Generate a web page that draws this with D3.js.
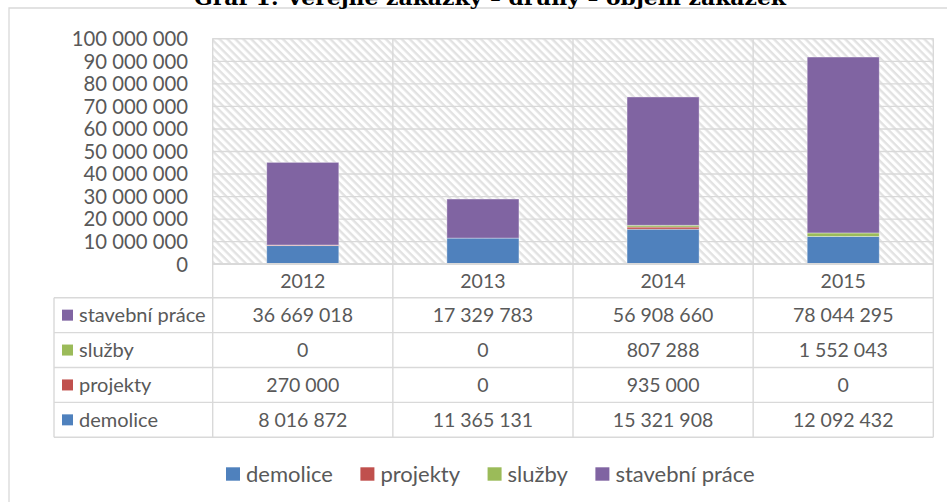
<!DOCTYPE html>
<html><head><meta charset="utf-8">
<script src="https://cdn.jsdelivr.net/npm/d3@7"></script>
<style>
html,body{margin:0;padding:0;background:#fff;}
svg{display:block;}
text{font-family:Lato,"Open Sans",sans-serif;fill:#595959;}
</style></head>
<body>
<svg id="chart" width="947" height="502"></svg>
<script>
const title = "Graf 1: Veřejné zakázky – druhy – objem zakázek";
const categories = ["2012", "2013", "2014", "2015"];
const seriesNames = ["demolice", "projekty", "služby", "stavební práce"];
const demolice = [8016872, 11365131, 15321908, 12092432];
const projekty = [270000, 0, 935000, 0];
const sluzby = [0, 0, 807288, 1552043];
const stavebniPrace = [36669018, 17329783, 56908660, 78044295];
const seriesColors = ["#4f81bd", "#c0504d", "#9bbb59", "#8064a2"];
const yTicks = [0, 10000000, 20000000, 30000000, 40000000, 50000000, 60000000, 70000000, 80000000, 90000000, 100000000];

const seriesValues = [demolice, projekty, sluzby, stavebniPrace];
const rows = categories.map((c, i) => {
  const r = {cat: c};
  seriesNames.forEach((s, j) => r[s] = seriesValues[j][i]);
  return r;
});

const svg = d3.select("#chart");
const fmt = v => d3.format(",")(v).replace(/,/g, " ");
const grid = "#d9d9d9";

const plotL = 212.7, plotR = 933.3, plotT = 38.3, plotB = 263.7;
const tableTop = 297.7, rowH = 34.9, tableLeft = 54;
const tableBottom = tableTop + rowH * 4;

const x = d3.scaleBand().domain(categories).range([plotL, plotR]).padding(0);
const y = d3.scaleLinear().domain([0, 100000000]).range([plotB, plotT]);
const color = d3.scaleOrdinal().domain(seriesNames).range(seriesColors);

// outer chart border
svg.append("path").attr("d", `M9,502V8H947`).attr("fill", "none").attr("stroke", grid).attr("stroke-width", 1.3);

// title (cut off at top)
svg.append("text").attr("x", 490).attr("y", 5).attr("text-anchor", "middle")
  .attr("textLength", 592).attr("lengthAdjust", "spacingAndGlyphs")
  .style("font-family", "'DejaVu Serif',serif").style("font-weight", "bold")
  .style("font-size", "20px").style("fill", "#000").text(title);

// hatch pattern
const defs = svg.append("defs");
const pat = defs.append("pattern").attr("id", "hatch").attr("patternUnits", "userSpaceOnUse")
  .attr("width", 5.6).attr("height", 5.6).attr("patternTransform", "rotate(45)");
pat.append("rect").attr("width", 5.6).attr("height", 5.6).attr("fill", "#fff");
pat.append("rect").attr("y", 0).attr("width", 5.6).attr("height", 2.4).attr("fill", "#e2e2e2");

svg.append("rect").attr("x", plotL).attr("y", plotT).attr("width", plotR - plotL).attr("height", plotB - plotT)
  .attr("fill", "url(#hatch)");

// horizontal gridlines
const gridAxis = svg.append("g").attr("transform", `translate(${plotL},0)`)
  .call(d3.axisLeft(y).tickValues(yTicks).tickSize(-(plotR - plotL)).tickFormat(""));
gridAxis.select(".domain").remove();
gridAxis.selectAll("line").attr("stroke", grid).attr("stroke-width", 1.4);

// y axis labels
const yAxis = svg.append("g").attr("transform", `translate(${plotL},0)`)
  .call(d3.axisLeft(y).tickValues(yTicks).tickSize(0).tickPadding(24.7).tickFormat(fmt));
yAxis.select(".domain").remove();
yAxis.selectAll("text").style("font-size", "20.3px").style("fill", "#595959")
  .style("font-family", "Lato,sans-serif").attr("dy", "0.36em");

// bars
const stack = d3.stack().keys(seriesNames)(rows);
const bw = x.bandwidth() * 0.4;
svg.append("g").selectAll("g").data(stack).join("g")
  .attr("fill", d => color(d.key))
  .selectAll("rect").data(d => d).join("rect")
  .attr("x", d => x(d.data.cat) + (x.bandwidth() - bw) / 2)
  .attr("y", d => y(d[1]))
  .attr("width", bw)
  .attr("height", d => y(d[0]) - y(d[1]))
  .attr("stroke", "#ffffff").attr("stroke-opacity", 0.45).attr("stroke-width", 0.8);

// table lines
const tl = svg.append("g").attr("stroke", grid).attr("stroke-width", 1.4).attr("fill", "none");
tl.append("line").attr("x1", plotL).attr("x2", plotR).attr("y1", plotB).attr("y2", plotB);
d3.range(5).forEach(i => {
  const yy = tableTop + rowH * i;
  tl.append("line").attr("x1", tableLeft).attr("x2", plotR).attr("y1", yy).attr("y2", yy);
});
const bounds = categories.map(c => x(c)).concat([plotR]);
tl.selectAll(".v").data(bounds).join("line")
  .attr("x1", d => d).attr("x2", d => d).attr("y1", plotT).attr("y2", tableBottom);
tl.append("line").attr("x1", tableLeft).attr("x2", tableLeft).attr("y1", tableTop).attr("y2", tableBottom);

// year labels
svg.append("g").selectAll("text").data(categories).join("text")
  .attr("x", d => x(d) + x.bandwidth() / 2).attr("y", (plotB + tableTop) / 2).attr("dy", "0.36em")
  .attr("text-anchor", "middle").style("font-size", "19.5px").text(d => d);

// table rows (reverse order)
const tableOrder = seriesNames.map((s, j) => ({name: s, vals: seriesValues[j], color: seriesColors[j]})).reverse();
const rowG = svg.append("g").selectAll("g").data(tableOrder).join("g")
  .attr("transform", (d, i) => `translate(0,${tableTop + rowH * i + rowH / 2})`);
rowG.append("rect").attr("x", 62).attr("y", -5.5).attr("width", 11).attr("height", 11).attr("fill", d => d.color);
rowG.append("text").attr("x", 79).attr("dy", "0.36em").style("font-size", "20px").text(d => d.name);
rowG.selectAll(".val").data(d => d.vals.map((v, i) => ({v, c: categories[i]}))).join("text")
  .attr("x", d => x(d.c) + x.bandwidth() / 2).attr("dy", "0.36em").attr("text-anchor", "middle")
  .style("font-size", "19.5px").text(d => fmt(d.v));

// legend
const leg = svg.append("g").attr("transform", "translate(0,474)");
let lx = 226;
seriesNames.forEach((s, j) => {
  const g = leg.append("g").attr("transform", `translate(${lx},0)`);
  g.append("rect").attr("x", 0).attr("y", -6.7).attr("width", 14).attr("height", 13.4).attr("fill", seriesColors[j]);
  const t = g.append("text").attr("x", 20).attr("dy", "0.36em").style("font-size", "22px").text(s);
  lx += 20 + t.node().getComputedTextLength() + 27.5;
});
</script>
</body></html>
